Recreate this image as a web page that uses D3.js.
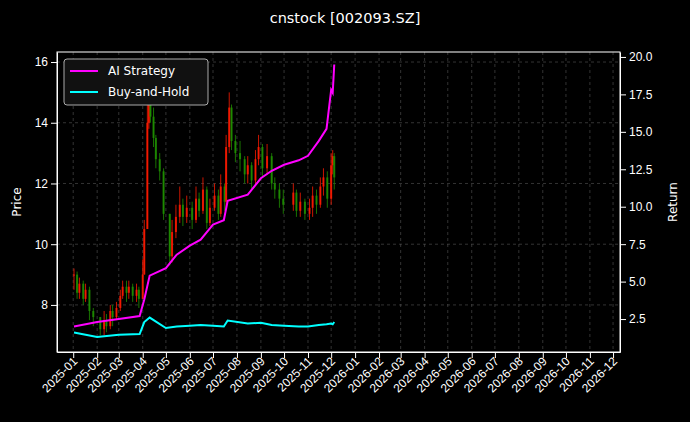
<!DOCTYPE html>
<html><head><meta charset="utf-8">
<script src="https://cdn.jsdelivr.net/npm/d3@7"></script>
<style>body{margin:0;background:#000;}svg{font-family:"DejaVu Sans",sans-serif;}</style>
</head><body><svg id="vis" width="690" height="422"></svg>
<script>
// price candles (open = previous close)
const priceDates = ['2025-01-02','2025-01-06','2025-01-09','2025-01-14','2025-01-17','2025-01-22','2025-01-27','2025-02-05','2025-02-10','2025-02-13','2025-02-18','2025-02-21','2025-02-26','2025-03-03','2025-03-06','2025-03-11','2025-03-14','2025-03-19','2025-03-24','2025-03-27','2025-04-01','2025-04-03','2025-04-07','2025-04-09','2025-04-11','2025-04-15','2025-04-18','2025-04-23','2025-04-28','2025-05-06','2025-05-09','2025-05-14','2025-05-19','2025-05-23','2025-05-28','2025-06-04','2025-06-09','2025-06-13','2025-06-18','2025-06-23','2025-06-27','2025-07-03','2025-07-08','2025-07-11','2025-07-16','2025-07-18','2025-07-22','2025-07-25','2025-07-30','2025-08-05','2025-08-11','2025-08-15','2025-08-20','2025-08-25','2025-08-29','2025-09-03','2025-09-09','2025-09-15','2025-09-19','2025-09-25','2025-09-30','2025-10-13','2025-10-17','2025-10-22','2025-10-28','2025-11-03','2025-11-07','2025-11-12','2025-11-17','2025-11-21','2025-11-26','2025-12-01','2025-12-03','2025-12-05'];
const priceClose = [9.0,8.4,8.7,8.2,8.5,7.8,7.6,7.2,7.5,7.3,7.8,7.6,7.9,8.3,8.6,8.4,8.6,8.3,8.5,8.2,9.0,10.5,14.0,15.5,14.2,13.5,12.8,12.4,11.0,9.6,10.4,10.9,11.3,10.9,11.2,10.8,11.5,11.1,11.8,10.7,11.2,11.6,11.0,11.9,11.4,13.2,14.5,13.4,13.0,12.8,12.3,12.6,12.1,12.8,13.2,12.5,12.9,12.0,11.8,11.5,11.3,11.7,11.1,11.4,11.0,11.2,11.6,11.3,11.9,12.2,11.5,12.6,12.9,12.2];
const priceHigh = [9.2,9.1,8.9,8.8,8.7,8.6,7.9,7.6,7.8,7.7,8.0,8.0,8.1,8.5,8.8,8.8,8.8,8.7,8.7,8.6,9.5,10.8,15.0,16.0,15.6,14.5,13.6,13.0,12.5,11.0,10.8,11.3,11.9,11.5,11.6,11.4,11.9,11.7,12.2,11.9,11.5,12.0,11.8,12.3,12.0,13.6,15.0,14.6,13.6,13.4,12.9,12.9,12.7,13.1,13.6,13.3,13.3,13.0,12.2,12.0,11.8,12.0,11.8,11.7,11.5,11.5,11.9,11.8,12.2,12.5,12.4,13.0,13.1,13.0];
const priceLow = [8.5,8.2,8.2,8.0,8.1,7.5,7.3,7.0,7.0,7.1,7.2,7.3,7.5,7.8,8.2,8.1,8.2,8.1,8.1,7.9,8.2,9.0,10.5,13.8,14.0,13.2,12.5,12.1,10.8,9.3,9.4,10.2,10.7,10.6,10.7,10.5,10.7,10.9,11.0,10.5,10.6,11.1,10.8,10.9,11.1,11.2,13.0,13.1,12.7,12.4,12.0,12.0,11.8,12.0,12.6,12.2,12.3,11.8,11.5,11.2,11.0,11.1,10.9,10.9,10.8,10.8,10.9,11.0,11.2,11.6,11.2,11.3,12.3,11.8];

const retDates = ['2025-01-02','2025-02-01','2025-03-01','2025-03-28','2025-04-03','2025-04-10','2025-05-01','2025-05-15','2025-06-01','2025-06-15','2025-07-01','2025-07-15','2025-07-20','2025-08-15','2025-09-01','2025-09-15','2025-10-01','2025-10-20','2025-11-01','2025-11-15','2025-11-25','2025-12-01','2025-12-03','2025-12-05'];
const aiReturn = [2.0,2.3,2.5,2.7,3.8,5.4,5.9,6.8,7.4,7.8,8.8,9.1,10.4,10.8,11.9,12.4,12.8,13.1,13.4,14.4,15.2,17.8,17.6,19.5];
const bhReturn = [1.6,1.3,1.45,1.5,2.3,2.6,1.9,2.0,2.05,2.1,2.05,2.0,2.4,2.2,2.25,2.1,2.05,2.0,2.0,2.1,2.15,2.2,2.15,2.3];

const xTicks = d3.timeMonths(new Date(2025,0,1), new Date(2026,11,2));

const svg = d3.select('#vis');
const m = { top: 52, left: 57, right: 70, bottom: 70 };
const W = 690 - m.left - m.right, H = 422 - m.top - m.bottom;
svg.append('rect').attr('width', 690).attr('height', 422).attr('fill', '#000');
const g = svg.append('g').attr('transform', 'translate(' + m.left + ',' + m.top + ')');

const x = d3.scaleTime().domain([new Date(2024,11,11), new Date(2026,11,10)]).range([0, W]);
const yP = d3.scaleLinear().domain([6.45, 16.33]).range([H, 0]);
const yR = d3.scaleLinear().domain([0.3, 20.33]).range([H, 0]);
const pd = d3.timeParse('%Y-%m-%d');

// grid
g.selectAll('.gx').data(xTicks).enter().append('line')
    .attr('x1', d => x(d)).attr('x2', d => x(d)).attr('y1', 0).attr('y2', H)
    .attr('stroke', '#555').attr('stroke-dasharray', '3,3').attr('stroke-width', 0.6);
g.selectAll('.gy').data([8, 10, 12, 14, 16]).enter().append('line')
    .attr('x1', 0).attr('x2', W).attr('y1', d => yP(d)).attr('y2', d => yP(d))
    .attr('stroke', '#555').attr('stroke-dasharray', '3,3').attr('stroke-width', 0.6);

// candles
const candles = priceDates.map((d, i) => ({
    t: pd(d), o: i ? priceClose[i - 1] : priceClose[0], c: priceClose[i], h: priceHigh[i], l: priceLow[i]
}));
const cg = g.selectAll('.c').data(candles).enter().append('g');
cg.append('line').attr('x1', d => x(d.t)).attr('x2', d => x(d.t))
    .attr('y1', d => yP(d.h)).attr('y2', d => yP(d.l))
    .attr('stroke', d => d.c >= d.o ? '#ff1a00' : '#1f8f00').attr('stroke-width', 0.8);
cg.append('rect').attr('x', d => x(d.t) - 1).attr('width', 2)
    .attr('y', d => yP(Math.max(d.o, d.c))).attr('height', d => Math.max(1, Math.abs(yP(d.o) - yP(d.c))))
    .attr('fill', d => d.c >= d.o ? '#ff1a00' : '#1f8f00').attr('opacity', 0.85);

// returns
const line = d3.line().x((d, i) => x(pd(retDates[i]))).y(d => yR(d));
g.append('path').datum(aiReturn).attr('d', line).attr('fill', 'none').attr('stroke', '#ff00ff').attr('stroke-width', 2);
g.append('path').datum(bhReturn).attr('d', line).attr('fill', 'none').attr('stroke', '#00ffff').attr('stroke-width', 2);

// axes
const styleAxis = sel => { sel.selectAll('path,line').attr('stroke', '#fff'); sel.selectAll('text').attr('fill', '#fff').style('font-size', '12px'); };
g.append('g').attr('transform', 'translate(0,' + H + ')')
    .call(d3.axisBottom(x).tickValues(xTicks).tickFormat(d3.timeFormat('%Y-%m')).tickSizeOuter(0))
    .call(styleAxis)
    .selectAll('text').attr('transform', 'rotate(-45)').attr('x', -4).attr('y', 6).attr('dy', '0.35em')
    .style('text-anchor', 'end');
g.append('g').call(d3.axisLeft(yP).tickValues([8, 10, 12, 14, 16]).tickSizeOuter(0)).call(styleAxis);
g.append('g').attr('transform', 'translate(' + W + ',0)')
    .call(d3.axisRight(yR).tickValues([2.5, 5, 7.5, 10, 12.5, 15, 17.5, 20]).tickFormat(d3.format('.1f')).tickSizeOuter(0)).call(styleAxis);
g.append('rect').attr('width', W).attr('height', H).attr('fill', 'none').attr('stroke', '#fff');

// labels
svg.append('text').attr('x', 345).attr('y', 23).attr('text-anchor', 'middle').attr('fill', '#fff').style('font-size', '14.5px').text('cnstock [002093.SZ]');
svg.append('text').attr('transform', 'translate(21,' + (m.top + H / 2) + ') rotate(-90)').attr('text-anchor', 'middle').attr('fill', '#fff').style('font-size', '12px').text('Price');
svg.append('text').attr('transform', 'translate(677,' + (m.top + H / 2) + ') rotate(-90)').attr('text-anchor', 'middle').attr('fill', '#fff').style('font-size', '12px').text('Return');

// legend
const lg = g.append('g').attr('transform', 'translate(7,7)');
lg.append('rect').attr('width', 144).attr('height', 46).attr('rx', 3).attr('fill', '#111').attr('stroke', '#aaa');
[['AI Strategy', '#ff00ff'], ['Buy-and-Hold', '#00ffff']].forEach((d, i) => {
    lg.append('line').attr('x1', 6).attr('x2', 34).attr('y1', 12 + i * 21).attr('y2', 12 + i * 21).attr('stroke', d[1]).attr('stroke-width', 2);
    lg.append('text').attr('x', 44).attr('y', 16 + i * 21).attr('fill', '#fff').style('font-size', '12px').text(d[0]);
});
</script></body></html>
